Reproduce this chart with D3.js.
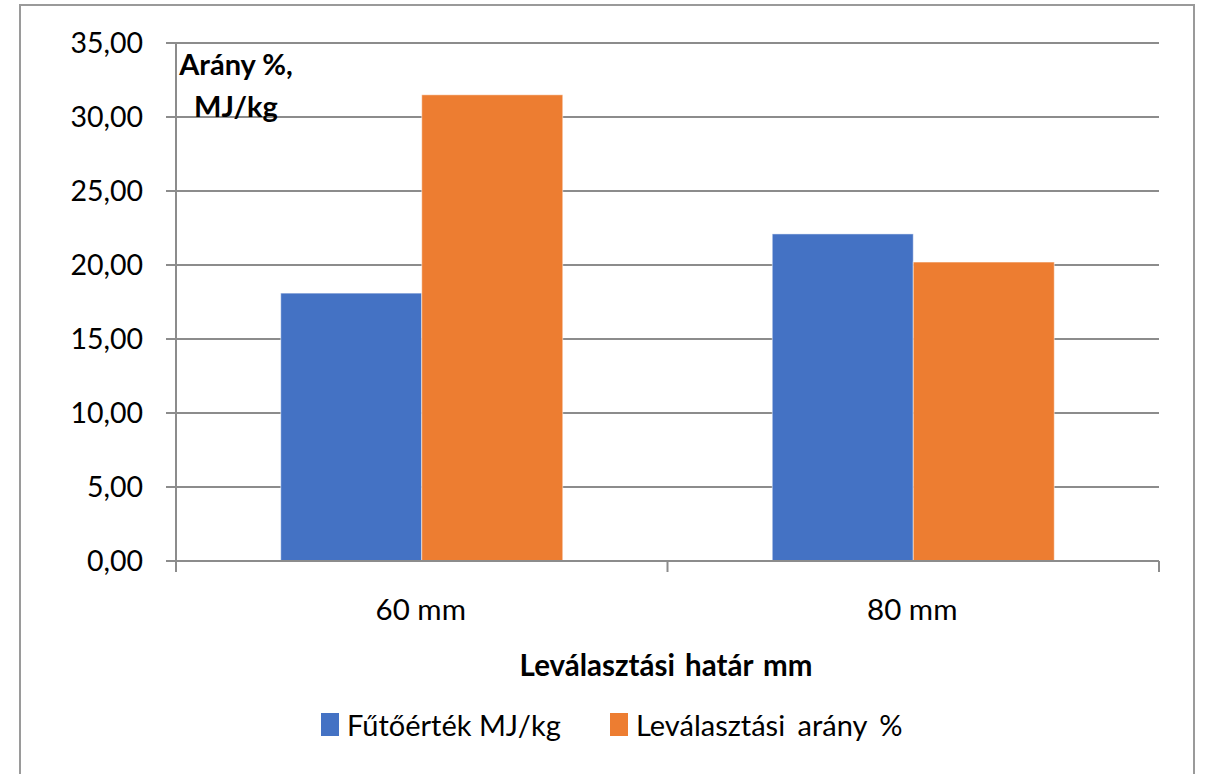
<!DOCTYPE html>
<html>
<head>
<meta charset="utf-8">
<script src="https://cdn.jsdelivr.net/npm/d3@7"></script>
<style>
  html, body { margin: 0; padding: 0; background: #fff; }
  svg { display: block; }
  text { font-family: Lato, "Open Sans", sans-serif; fill: #000; }
</style>
</head>
<body>
<svg id="chart" width="1207" height="774"></svg>
<script>
const categories = ["60 mm", "80 mm"];
const seriesNames = ["Fűtőérték MJ/kg", "Leválasztási arány %"];
const heatingValue = [18.1, 22.1];
const separationRate = [31.5, 20.2];
const yTicks = [0, 5, 10, 15, 20, 25, 30, 35];
const yTitleLines = ["Arány %,", "MJ/kg"];
const xTitle = "Leválasztási határ mm";
const colors = ["#4472C4", "#ED7D31"];

const series = [heatingValue, separationRate];

const svg = d3.select("#chart");
const gridColor = "#8c8c8c";

// outer frame
svg.append("rect")
  .attr("x", 20).attr("y", 5)
  .attr("width", 1174).attr("height", 800)
  .attr("fill", "none").attr("stroke", "#9a9a9a").attr("stroke-width", 2);

const plot = { left: 176, right: 1159, top: 43, bottom: 561 };

const x0 = d3.scaleBand().domain(categories).range([plot.left, plot.right]).padding(0);
const x1 = d3.scaleBand().domain(d3.range(series.length))
  .range([x0.bandwidth() * 0.2131, x0.bandwidth() * 0.7869]).padding(0);
const y = d3.scaleLinear().domain([0, 35]).range([plot.bottom, plot.top]);

// gridlines + y ticks
svg.append("g").selectAll("line").data(yTicks).join("line")
  .attr("x1", plot.left - 10).attr("x2", plot.right)
  .attr("y1", d => y(d)).attr("y2", d => y(d))
  .attr("stroke", gridColor).attr("stroke-width", 2);

// y tick labels
svg.append("g").selectAll("text").data(yTicks).join("text")
  .attr("x", 143).attr("y", d => y(d))
  .attr("dy", "0.36em")
  .attr("text-anchor", "end")
  .attr("font-size", 28.5)
  .text(d => d.toFixed(2).replace(".", ","));

// bars
const groups = svg.append("g").selectAll("g").data(categories).join("g")
  .attr("transform", d => `translate(${x0(d)},0)`);
groups.selectAll("rect")
  .data((c, ci) => series.map((s, si) => ({ si, v: s[ci] })))
  .join("rect")
  .attr("x", d => x1(d.si))
  .attr("width", x1.bandwidth())
  .attr("y", d => y(d.v))
  .attr("height", d => y(0) - y(d.v))
  .attr("fill", d => colors[d.si])
  .attr("stroke", "#ffffff").attr("stroke-opacity", 0.5).attr("stroke-width", 1);

// y axis line
svg.append("line")
  .attr("x1", plot.left).attr("x2", plot.left)
  .attr("y1", plot.top).attr("y2", plot.bottom + 11)
  .attr("stroke", gridColor).attr("stroke-width", 2);

// x axis line
svg.append("line")
  .attr("x1", plot.left).attr("x2", plot.right)
  .attr("y1", plot.bottom).attr("y2", plot.bottom)
  .attr("stroke", gridColor).attr("stroke-width", 2);

// x ticks (category boundaries)
const bounds = categories.map(c => x0(c)).concat([x0(categories[categories.length - 1]) + x0.bandwidth()]);
svg.append("g").selectAll("line").data(bounds).join("line")
  .attr("x1", d => d).attr("x2", d => d)
  .attr("y1", plot.bottom).attr("y2", plot.bottom + 11)
  .attr("stroke", gridColor).attr("stroke-width", 2);

// x labels
svg.append("g").selectAll("text").data(categories).join("text")
  .attr("x", d => x0(d) + x0.bandwidth() / 2 - 1)
  .attr("y", 620)
  .attr("text-anchor", "middle")
  .attr("font-size", 29.5)
  .text(d => d);

// y axis title
svg.append("g").selectAll("text").data(yTitleLines).join("text")
  .attr("x", 236)
  .attr("y", (d, i) => 75 + i * 42)
  .attr("text-anchor", "middle")
  .attr("font-size", 29)
  .attr("font-weight", "bold")
  .text(d => d);

// x axis title
svg.append("text")
  .attr("x", 666).attr("y", 676)
  .attr("text-anchor", "middle")
  .attr("font-size", 29.5)
  .attr("font-weight", "bold")
  .attr("word-spacing", 3)
  .text(xTitle);

// legend
const legendX = [321, 610];
const lg = svg.append("g").selectAll("g").data(seriesNames).join("g")
  .attr("transform", (d, i) => `translate(${legendX[i]},0)`);
lg.append("rect")
  .attr("x", 0).attr("y", 713).attr("width", 18).attr("height", 23)
  .attr("fill", (d, i) => colors[i]);
lg.append("text")
  .attr("x", 26).attr("y", 736)
  .attr("font-size", 29)
  .attr("word-spacing", (d, i) => i === 1 ? 5 : 0)
  .text(d => d);
</script>
</body>
</html>
